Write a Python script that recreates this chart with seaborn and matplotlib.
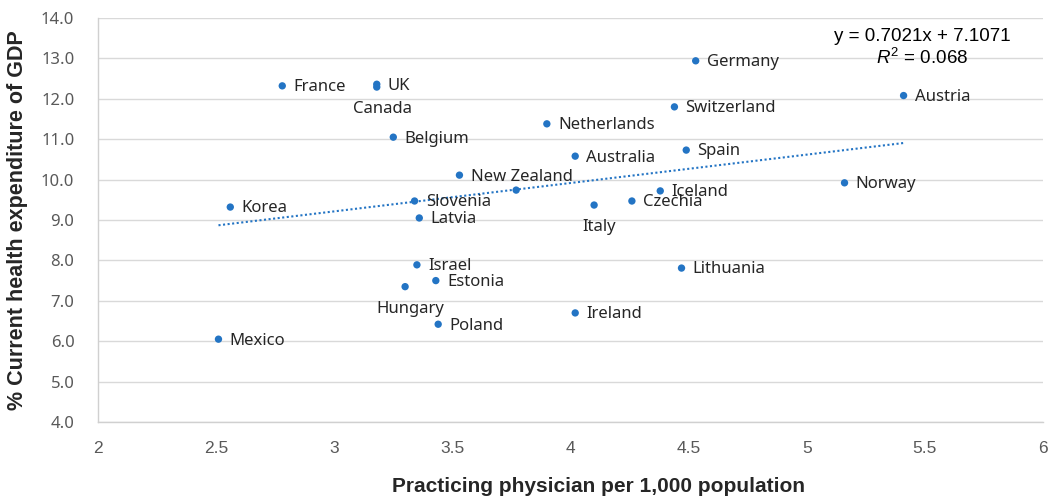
import matplotlib
matplotlib.use("Agg")
import matplotlib.pyplot as plt
import seaborn as sns
import pandas as pd
import numpy as np

countries = ["France", "UK", "Canada", "Belgium", "New Zealand", "", "Korea",
             "Slovenia", "Latvia", "Germany", "Switzerland", "Netherlands",
             "Australia", "Spain", "Iceland", "Czechia", "Italy", "Austria",
             "Norway", "Israel", "Estonia", "Hungary", "Poland", "Mexico",
             "Ireland", "Lithuania"]
physicians = [2.78, 3.18, 3.18, 3.25, 3.53, 3.77, 2.56,
              3.34, 3.36, 4.53, 4.44, 3.90,
              4.02, 4.49, 4.38, 4.26, 4.10, 5.41,
              5.16, 3.35, 3.43, 3.30, 3.44, 2.51,
              4.02, 4.47]
health_exp = [12.32, 12.36, 12.29, 11.05, 10.11, 9.74, 9.32,
              9.47, 9.05, 12.94, 11.80, 11.38,
              10.58, 10.73, 9.72, 9.47, 9.37, 12.08,
              9.92, 7.89, 7.50, 7.35, 6.42, 6.05,
              6.70, 7.81]
# label placement: "r" = right of the dot, "b" = centred below it
label_side = {"Canada": "b", "Hungary": "b", "Italy": "b"}

slope = 0.7021
intercept = 7.1071
r_squared = 0.068

x_ticks = [2, 2.5, 3, 3.5, 4, 4.5, 5, 5.5, 6]
y_ticks = [4.0, 5.0, 6.0, 7.0, 8.0, 9.0, 10.0, 11.0, 12.0, 13.0, 14.0]

df = pd.DataFrame({"country": countries, "phys": physicians, "exp": health_exp})

sns.set_theme(style="white")
plt.rcParams["font.family"] = ["Noto Sans", "DejaVu Sans"]
plt.rcParams["mathtext.fontset"] = "custom"
plt.rcParams["mathtext.it"] = "Liberation Sans:italic"
plt.rcParams["mathtext.rm"] = "Liberation Sans"

fig = plt.figure(figsize=(10.48, 4.98), dpi=100)
ax = fig.add_axes([0.0935, 0.1526, 0.9017, 0.8113])

dot_color = "#2374c4"
sns.scatterplot(data=df, x="phys", y="exp", ax=ax, color=dot_color,
                s=28, edgecolor="none", zorder=3, legend=False)

# linear trend line over the data range
xs = np.array([min(physicians), max(physicians)])
ax.plot(xs, slope * xs + intercept, linestyle=(0, (1, 1.2)), color=dot_color,
        linewidth=1.5, zorder=2)

for name, px, py in zip(countries, physicians, health_exp):
    if not name:
        continue
    weight = "bold" if name == "Korea" else "normal"
    if label_side.get(name) == "b":
        ax.annotate(name, (px, py), xytext=(4, -10), textcoords="offset points",
                    ha="center", va="top", fontsize=12, color="#262626",
                    fontweight=weight)
    else:
        ax.annotate(name, (px, py), xytext=(8, -1), textcoords="offset points",
                    ha="left", va="center", fontsize=12, color="#262626",
                    fontweight=weight)

ax.text(0.872, 0.953, f"y = {slope:.4f}x + {intercept:.4f}", transform=ax.transAxes,
        ha="center", va="center", fontsize=13.5, color="black",
        family=["Liberation Sans", "DejaVu Sans"])
ax.text(0.872, 0.900, f"$R^2$ = {r_squared:.3f}", transform=ax.transAxes,
        ha="center", va="center", fontsize=13.5, color="black",
        family=["Liberation Sans", "DejaVu Sans"])

ax.set_xlim(2, 6)
ax.set_ylim(4, 14)
ax.set_xticks(x_ticks)
ax.set_xticklabels([f"{t:g}" for t in x_ticks], family=["Liberation Sans", "DejaVu Sans"],
                   fontsize=12.5, color="#595959")
ax.set_yticks(y_ticks)
ax.set_yticklabels([f"{t:.1f}" for t in y_ticks], fontsize=12, color="#595959")
ax.tick_params(axis="x", length=0, pad=14)
ax.tick_params(axis="y", length=0, pad=17)

ax.yaxis.grid(True, color="#d9d9d9", linewidth=1)
ax.xaxis.grid(False)
ax.set_axisbelow(True)
for side in ["top", "right"]:
    ax.spines[side].set_visible(False)
for side in ["left", "bottom"]:
    ax.spines[side].set_color("#d0d0d0")
    ax.spines[side].set_linewidth(1)

ax.set_xlabel("Practicing physician per 1,000 population", fontsize=15,
              fontweight="bold", color="#262626",
              family=["Liberation Sans", "DejaVu Sans"])
ax.xaxis.set_label_coords(0.530, -0.136)
ax.set_ylabel("% Current health expenditure of GDP", fontsize=15.5,
              fontweight="bold", color="#262626",
              family=["Liberation Sans", "DejaVu Sans"])
ax.yaxis.set_label_coords(-0.074, 0.50)

fig.savefig("out.png", dpi=100)
